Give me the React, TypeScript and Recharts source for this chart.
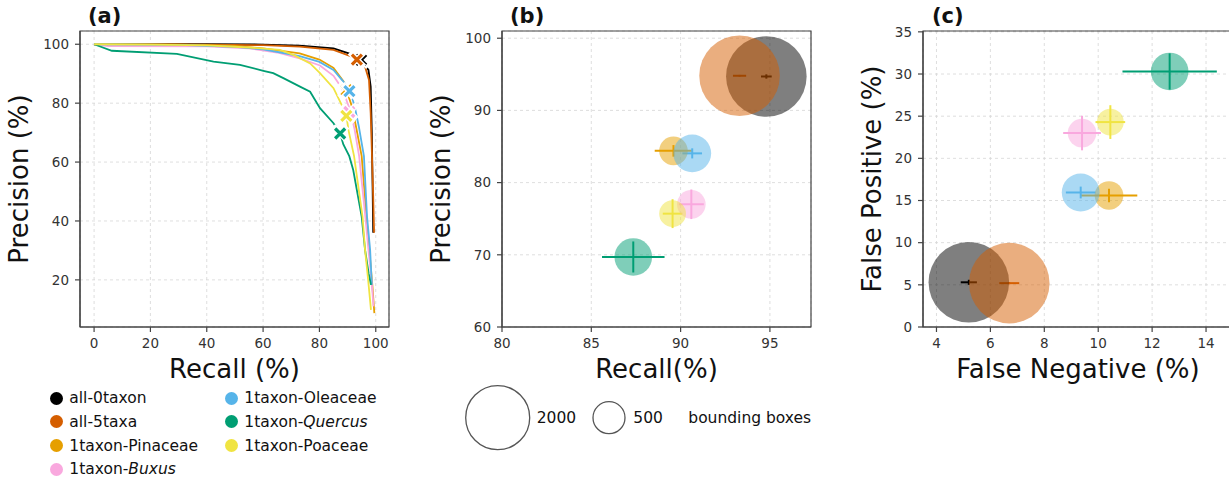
import {
  ComposedChart,
  ScatterChart,
  Line,
  Scatter,
  XAxis,
  YAxis,
  CartesianGrid,
  ErrorBar,
  ReferenceArea,
  Label,
} from "recharts";

// series, in plotting order
const SERIES = [
  "all-0taxon",
  "all-5taxa",
  "1taxon-Pinaceae",
  "1taxon-Buxus",
  "1taxon-Oleaceae",
  "1taxon-Quercus",
  "1taxon-Poaceae",
];
const ITALIC_TAXON = [false, false, false, true, false, true, false];
const COLORS = ["#000000", "#D55E00", "#E69F00", "#F9A8DE", "#56B4E9", "#009E73", "#F0E442"];

// operating points (%)
const RECALL = [94.8, 93.3, 89.6, 90.6, 90.65, 87.35, 89.55];
const PRECISION = [94.7, 94.8, 84.4, 77.0, 84.05, 69.7, 75.7];
const RECALL_ERR = [0.3, 0.37, 1.05, 0.7, 0.55, 1.75, 0.55];
const PRECISION_ERR = [0.3, 0.12, 0.8, 2.05, 0.7, 2.15, 2.0];
const BOXES = [3170, 3170, 400, 400, 700, 690, 350];

// precision-recall curves: [recall, precision]
const CURVE_ALL0 = [[0, 100], [20, 100], [40, 100], [60, 99.9], [73, 99.5], [85, 98.6], [92, 96.4], [95, 94.1], [97.4, 91.3], [98.2, 85.6], [98.6, 70], [98.9, 50], [99.1, 36]];
const CURVE_ALL5 = [[0, 100], [20, 100], [40, 99.9], [60, 99.7], [73, 99.2], [85, 98.1], [91.5, 95.8], [93.5, 94.4], [96.2, 92.4], [97.6, 87.9], [98.2, 76.6], [98.6, 64], [99.1, 48], [99.4, 36]];
const CURVE_PINACEAE = [[0, 100], [30, 99.9], [50, 99.4], [60, 98.6], [73, 96.9], [80, 94.8], [85, 92], [88.5, 87.5], [89.6, 84.4], [91.5, 79], [93, 72], [95, 62], [96.7, 41.5], [97.7, 30.2], [98.8, 18], [99.5, 8.7]];
const CURVE_BUXUS = [[0, 100], [5, 99.4], [40, 99.3], [55, 98.6], [65, 97.2], [73, 95.2], [80.2, 92.8], [85, 89.3], [88, 85], [90.9, 77.7], [92.5, 71], [94.1, 62], [96.3, 41.5], [97.4, 30.2], [98.5, 20], [99.2, 11]];
const CURVE_OLEACEAE = [[0, 100], [30, 99.8], [50, 99.1], [60, 98.3], [73, 96], [80, 94], [85, 91.3], [88.5, 87.3], [90.9, 83.9], [92.5, 79], [94, 72], [95.8, 62], [96.9, 41.5], [98, 30.2], [98.6, 18.3]];
const CURVE_QUERCUS = [[0, 100], [6.3, 97.8], [29.4, 96.7], [42.4, 94.1], [51.8, 93], [60.1, 91], [63.6, 90.2], [67.2, 88.5], [73.1, 85.6], [76.7, 83.9], [80.2, 78.3], [85, 73.2], [87.3, 69.8], [88.5, 66], [90.6, 62], [92, 57.3], [95, 41.5], [96.2, 30.2], [97.5, 22], [98.3, 18.3]];
const CURVE_POACEAE = [[0, 100], [20, 99.9], [40, 99.6], [55, 98.9], [66, 98.1], [70.8, 96.4], [76.7, 93.5], [80.2, 90.2], [85, 85.1], [87.9, 79.4], [89.6, 75.7], [90.3, 70.9], [92.3, 62], [95.3, 41.5], [96.2, 30.2], [97.3, 20], [98.3, 9.8]];
const CURVES = [CURVE_ALL0, CURVE_ALL5, CURVE_PINACEAE, CURVE_BUXUS, CURVE_OLEACEAE, CURVE_QUERCUS, CURVE_POACEAE];

const A_X_TICKS = [0, 20, 40, 60, 80, 100];
const A_Y_TICKS = [20, 40, 60, 80, 100];
const B_X_TICKS = [80, 85, 90, 95];
const B_Y_TICKS = [60, 70, 80, 90, 100];
const C_X_TICKS = [4, 6, 8, 10, 12, 14];
const C_Y_TICKS = [0, 5, 10, 15, 20, 25, 30, 35];

const LEGEND_SIZES = [2000, 500];

const FONT = "'DejaVu Sans', sans-serif";
const SPINE = "#444";
const tick = { fill: "#333", fontSize: 13.5 };
const axisLine = { stroke: SPINE, strokeWidth: 1.2 };
const labelStyle = { fill: "#111", fontSize: 26, textAnchor: "middle" as const };
const R_2000 = 32; // px radius of a 2000-box bubble

const bubbleRadius = (n: number) => R_2000 * Math.sqrt(n / 2000);

const Bubble = (props: any) => {
  const { cx, cy, payload, fill } = props;
  return <circle cx={cx} cy={cy} r={bubbleRadius(payload.n)} fill={fill} fillOpacity={0.5} />;
};

const XMark = (props: any) => {
  const { cx, cy, fill } = props;
  const s = 5;
  const d = `M${cx - s},${cy - s}L${cx + s},${cy + s}M${cx - s},${cy + s}L${cx + s},${cy - s}`;
  return (
    <g>
      <path d={d} stroke="#fff" strokeWidth={6} strokeLinecap="square" />
      <path d={d} stroke={fill} strokeWidth={3.2} strokeLinecap="butt" />
    </g>
  );
};

const Title = ({ text, left }: { text: string; left: number }) => (
  <div style={{ position: "absolute", left, top: 4, fontSize: 21, fontWeight: 700, color: "#111" }}>{text}</div>
);

function PanelA() {
  const xd: [number, number] = [-5, 104.7];
  const yd: [number, number] = [4, 104.5];
  return (
    <div style={{ position: "absolute", left: 0, top: 0 }}>
      <ComposedChart width={400} height={390} margin={{ top: 31, right: 11, bottom: 0, left: 0 }}>
        <CartesianGrid stroke="#d6d6d6" strokeDasharray="3 3" strokeWidth={0.8} />
        <XAxis type="number" dataKey="r" domain={xd} ticks={A_X_TICKS} allowDataOverflow height={63}
          tick={tick} tickSize={5} tickMargin={6} axisLine={axisLine} tickLine={axisLine}>
          <Label value="Recall (%)" position="insideBottom" offset={12} style={labelStyle} />
        </XAxis>
        <YAxis type="number" dataKey="p" domain={yd} ticks={A_Y_TICKS} allowDataOverflow width={80}
          tick={tick} tickSize={5} tickMargin={6} axisLine={axisLine} tickLine={axisLine}>
          <Label value="Precision (%)" angle={-90} position="insideLeft" offset={19} style={labelStyle} />
        </YAxis>
        <ReferenceArea x1={xd[0]} x2={xd[1]} y1={yd[0]} y2={yd[1]} ifOverflow="visible"
          fill="none" fillOpacity={0} stroke={SPINE} strokeWidth={1.2} />
        {CURVES.map((c, i) => (
          <Line key={SERIES[i]} data={c.map(([r, p]) => ({ r, p }))} dataKey="p" stroke={COLORS[i]}
            strokeWidth={1.8} dot={false} activeDot={false} isAnimationActive={false} />
        ))}
        {SERIES.map((s, i) => (
          <Scatter key={"m" + s} data={[{ r: RECALL[i], p: PRECISION[i] }]} fill={COLORS[i]} shape={XMark}
            isAnimationActive={false} />
        ))}
      </ComposedChart>
    </div>
  );
}

function BubblePanel(props: {
  left: number; width: number; yWidth: number; right: number;
  xDomain: [number, number]; yDomain: [number, number];
  xTicks: number[]; yTicks: number[];
  xLabel: string; yLabel: string; yLabelOffset: number;
  pts: { x: number; y: number; xe: number; ye: number; n: number }[];
}) {
  return (
    <div style={{ position: "absolute", left: props.left, top: 0 }}>
      <ScatterChart width={props.width} height={390} margin={{ top: 31, right: props.right, bottom: 0, left: 0 }}>
        <CartesianGrid stroke="#d6d6d6" strokeDasharray="3 3" strokeWidth={0.8} />
        <XAxis type="number" dataKey="x" domain={props.xDomain} ticks={props.xTicks} allowDataOverflow height={63}
          tick={tick} tickSize={5} tickMargin={6} axisLine={axisLine} tickLine={axisLine}>
          <Label value={props.xLabel} position="insideBottom" offset={12} style={labelStyle} />
        </XAxis>
        <YAxis type="number" dataKey="y" domain={props.yDomain} ticks={props.yTicks} allowDataOverflow width={props.yWidth}
          tick={tick} tickSize={5} tickMargin={6} axisLine={axisLine} tickLine={axisLine}>
          <Label value={props.yLabel} angle={-90} position="insideLeft" offset={props.yLabelOffset} style={labelStyle} />
        </YAxis>
        <ReferenceArea x1={props.xDomain[0]} x2={props.xDomain[1]} y1={props.yDomain[0]} y2={props.yDomain[1]}
          ifOverflow="visible" fill="none" fillOpacity={0} stroke={SPINE} strokeWidth={1.2} />
        {props.pts.map((pt, i) => (
          <Scatter key={SERIES[i]} data={[pt]} fill={COLORS[i]} shape={Bubble} isAnimationActive={false}>
            <ErrorBar dataKey="xe" direction="x" width={0} stroke={COLORS[i]} strokeWidth={2} />
            <ErrorBar dataKey="ye" direction="y" width={0} stroke={COLORS[i]} strokeWidth={2} />
          </Scatter>
        ))}
      </ScatterChart>
    </div>
  );
}

function SeriesLegend() {
  const col = (idx: number[], dotX: number) =>
    idx.map((i, row) => {
      const name = SERIES[i];
      const [pre, taxon] = name.split("-");
      return (
        <div key={name} style={{ position: "absolute", left: dotX - 7, top: 398 + row * 23.8 - 10, height: 20, display: "flex", alignItems: "center", fontSize: 15.5, color: "#111", whiteSpace: "nowrap" }}>
          <span style={{ width: 13, height: 13, borderRadius: "50%", background: COLORS[i], display: "inline-block", marginRight: 6 }} />
          <span>{pre}-{ITALIC_TAXON[i] ? <i>{taxon}</i> : taxon}</span>
        </div>
      );
    });
  return (
    <>
      {col([0, 1, 2, 3], 57.3)}
      {col([4, 5, 6], 232.3)}
    </>
  );
}

function SizeLegend() {
  const big = bubbleRadius(LEGEND_SIZES[0]);
  const small = bubbleRadius(LEGEND_SIZES[1]);
  return (
    <svg style={{ position: "absolute", left: 450, top: 370 }} width={400} height={100}>
      <circle cx={47.7} cy={47.7} r={big} fill="none" stroke="#555" strokeWidth={1.3} />
      <text x={86.7} y={47.7} dy="0.35em" fontSize={15.5} fill="#111">{LEGEND_SIZES[0]}</text>
      <circle cx={159} cy={47.7} r={small} fill="none" stroke="#555" strokeWidth={1.3} />
      <text x={183.3} y={47.7} dy="0.35em" fontSize={15.5} fill="#111">{LEGEND_SIZES[1]}</text>
      <text x={238.3} y={47.7} dy="0.35em" fontSize={15.5} fill="#111">bounding boxes</text>
    </svg>
  );
}

export default function App() {
  const ptsB = SERIES.map((_, i) => ({ x: RECALL[i], y: PRECISION[i], xe: RECALL_ERR[i], ye: PRECISION_ERR[i], n: BOXES[i] }));
  const ptsC = SERIES.map((_, i) => ({ x: 100 - RECALL[i], y: 100 - PRECISION[i], xe: RECALL_ERR[i], ye: PRECISION_ERR[i], n: BOXES[i] }));
  return (
    <div style={{ position: "fixed", left: 0, top: 0, width: 1229, height: 479, overflow: "hidden", background: "#fff", fontFamily: FONT }}>
      <Title text="(a)" left={88} />
      <Title text="(b)" left={510} />
      <Title text="(c)" left={932} />
      <PanelA />
      <BubblePanel left={420} width={400} yWidth={82} right={9} xDomain={[80, 97.3]} yDomain={[60, 101]}
        xTicks={B_X_TICKS} yTicks={B_Y_TICKS} xLabel="Recall(%)" yLabel="Precision (%)" yLabelOffset={21} pts={ptsB} />
      <BubblePanel left={840} width={410} yWidth={83} right={17} xDomain={[3.5, 15]} yDomain={[0, 35.1]}
        xTicks={C_X_TICKS} yTicks={C_Y_TICKS} xLabel="False Negative (%)" yLabel="False Positive (%)" yLabelOffset={32} pts={ptsC} />
      <SeriesLegend />
      <SizeLegend />
    </div>
  );
}
